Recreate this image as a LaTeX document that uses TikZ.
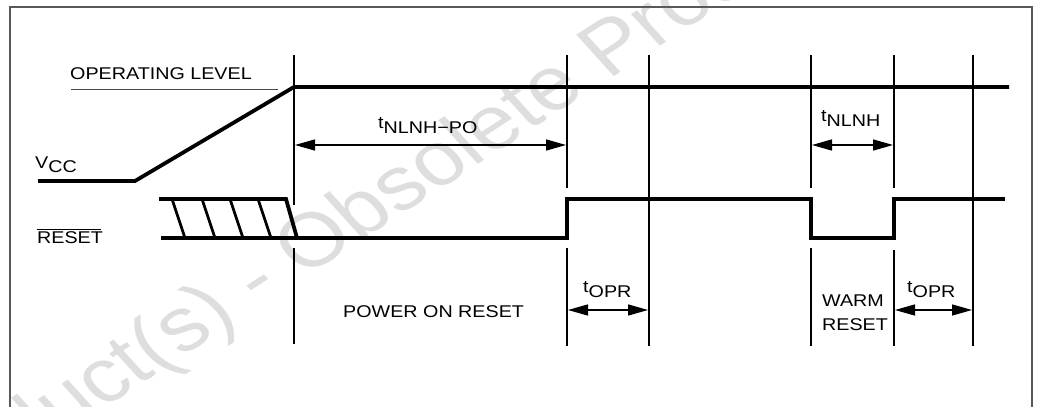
\documentclass[tikz,border=0pt]{standalone}
\usepackage{fontspec}
\setmainfont{Liberation Sans}[FakeStretch=1.16]
\newfontfamily\wmfont{Liberation Sans}
\usetikzlibrary{arrows.meta}
\begin{document}
\begin{tikzpicture}[x=1pt,y=-1pt,
  sig/.style={line width=3.8pt},
  hatch/.style={line width=2.8pt},
  vline/.style={line width=1.7pt},
  dimarrow/.style={line width=1.3pt,{Triangle[length=20pt,width=11pt]}-{Triangle[length=20pt,width=11pt]}},
  lbl/.style={font=\fontsize{17}{20}\selectfont, inner sep=0pt},
]
\useasboundingbox (0,0) rectangle (1037,407);
% watermark
\begin{scope}
\clip (0,0) rectangle (1037,407);
\begin{scope}[xscale=1.18]
\node[text=black!13, font=\wmfont\fontsize{76}{80}\selectfont, rotate=37.5, transform shape, inner sep=0pt] (wm) at (218.6,283) {Obsolete Product(s) - Obsolete Product(s)};
\end{scope}
\end{scope}
% frame
\draw[line width=2pt, black!65] (10,420) -- (10,7) -- (1032,7) -- (1032,420);

% VCC
\coordinate (va) at (38,181);
\coordinate (vb) at (135,181);
\coordinate (vc) at (294,87);
\coordinate (vd) at (1009,87);
\draw[sig] (va) -- (vb) -- (vc) -- (vd);
\coordinate (ola) at (71,89);
\coordinate (olb) at (278,89);
\draw[line width=1pt, black!70] (ola) -- (olb);
\node[lbl, anchor=base west] (oplevel) at (70,79) {OPERATING LEVEL};
\node[lbl, anchor=base west] (vcc) at (35,168) {V\raisebox{-4pt}{CC}};

% RESET
\node[lbl, anchor=base west] (rst) at (37,243) {\rlap{\rule[13.6pt]{64pt}{0.8pt}}RESET};
\coordinate (ha) at (159,199);
\coordinate (hb) at (286,199);
\coordinate (hc) at (297,238);
\draw[sig] (ha) -- (hb) -- (hc);
\foreach \x in {172,202,230,258} {
  \draw[hatch] (\x,199) -- (\x+13,238);
}
\coordinate (r0) at (161,238);
\coordinate (r1) at (567,238);
\coordinate (r2) at (567,199);
\coordinate (r3) at (811,199);
\coordinate (r4) at (811,238);
\coordinate (r5) at (894,238);
\coordinate (r6) at (894,199);
\coordinate (r7) at (1005,199);
\draw[sig] (r0) -- (r1) -- (r2) -- (r3) -- (r4) -- (r5) -- (r6) -- (r7);

% vertical timing lines
\coordinate (t1) at (294,55); \coordinate (b1a) at (294,205);
\coordinate (c1) at (294,248); \coordinate (d1) at (294,344);
\coordinate (t2) at (567,55); \coordinate (b2a) at (567,188);
\coordinate (c2) at (567,248); \coordinate (d2) at (567,346);
\coordinate (t3) at (649,55); \coordinate (d3) at (649,346);
\coordinate (t4) at (811,55); \coordinate (b4a) at (811,188);
\coordinate (c4) at (811,248); \coordinate (d4) at (811,346);
\coordinate (t5) at (894,55); \coordinate (b5a) at (894,188);
\coordinate (c5) at (894,250); \coordinate (d5) at (894,346);
\coordinate (t6) at (973,55); \coordinate (d6) at (973,346);
\draw[vline] (t1) -- (b1a) (c1) -- (d1);
\draw[vline] (t2) -- (b2a) (c2) -- (d2);
\draw[vline] (t3) -- (d3);
\draw[vline] (t4) -- (b4a) (c4) -- (d4);
\draw[vline] (t5) -- (b5a) (c5) -- (d5);
\draw[vline] (t6) -- (d6);

% dimension arrows
\coordinate (p1) at (295,145); \coordinate (p2) at (566,145);
\draw[dimarrow] (p1) -- (p2);
\node[lbl, anchor=base west] (tpo) at (378,133) {\raisebox{5pt}{t}NLNH−PO};
\coordinate (p3) at (812,145); \coordinate (p4) at (893,145);
\draw[dimarrow] (p3) -- (p4);
\node[lbl, anchor=base west] (tn) at (821,126) {\raisebox{5pt}{t}NLNH};
\coordinate (p5) at (568,310); \coordinate (p6) at (648,310);
\draw[dimarrow] (p5) -- (p6);
\node[lbl, anchor=base west] (to1) at (583,297) {\raisebox{5pt}{t}OPR};
\coordinate (p7) at (895,310); \coordinate (p8) at (972,310);
\draw[dimarrow] (p7) -- (p8);
\node[lbl, anchor=base west] (to2) at (907,297) {\raisebox{5pt}{t}OPR};

\node[lbl, anchor=base west] (por) at (343,317) {POWER ON RESET};
\node[lbl, anchor=base] (warm1) at (853,306) {WARM};
\node[lbl, anchor=base] (warm2) at (855,330) {RESET};
\end{tikzpicture}
\end{document}
